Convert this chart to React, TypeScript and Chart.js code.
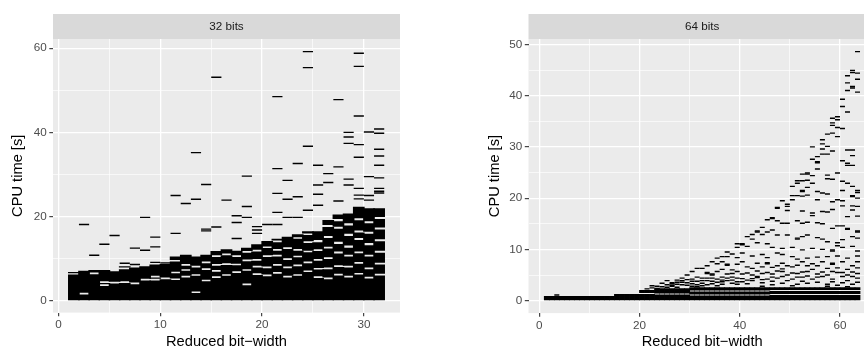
import React, { useEffect, useRef } from "react";
import { Chart, registerables } from "chart.js";
Chart.register(...registerables);

const FONT = '"Liberation Sans", Arial, Helvetica, sans-serif';

const panelTitles = ["32 bits", "64 bits"];
const xAxisTitle = "Reduced bit\u2212width";
const yAxisTitle = "CPU time [s]";

// ---- 32 bits panel ----
const leftXMajor = [0, 10, 20, 30];
const leftXMinor = [5, 15, 25];
const leftYMajor = [0, 20, 40, 60];
const leftYMinor = [10, 30, 50];
// dense runs of results: [bit-width, low, high]
const leftBlocks: [number, number, number][] = [
  [1, 0.1, 6.2], [1, 6.5, 6.8],
  [2, 0.1, 1.5], [2, 1.9, 7.1],
  [3, 0.1, 6.3], [3, 6.7, 7.3],
  [4, 0.1, 3.5], [4, 3.9, 4.2], [4, 4.6, 7.3],
  [5, 0.1, 4.1], [5, 4.5, 7.0],
  [6, 0.1, 4.2], [6, 4.6, 7.5], [6, 7.9, 8.2],
  [7, 0.1, 3.9], [7, 4.3, 7.9],
  [8, 0.1, 4.8], [8, 5.2, 8.2],
  [9, 0.1, 4.8], [9, 5.2, 5.5], [9, 5.9, 8.6],
  [10, 0.1, 5.1], [10, 5.5, 8.8],
  [11, 0.1, 4.9], [11, 5.3, 6.5], [11, 6.9, 9.3], [11, 9.7, 10.5],
  [12, 0.1, 5.5], [12, 5.9, 7.1], [12, 7.5, 8.3], [12, 8.7, 10.9],
  [13, 0.1, 1.8], [13, 2.2, 5.9], [13, 6.3, 7.9], [13, 8.3, 10.5],
  [14, 0.1, 4.6], [14, 5.0, 7.3], [14, 7.7, 8.9], [14, 9.3, 10.9],
  [15, 0.1, 5.4], [15, 5.8, 6.9], [15, 7.3, 8.3], [15, 8.7, 10.4], [15, 10.8, 11.8],
  [16, 0.1, 5.9], [16, 6.3, 8.5], [16, 8.9, 10.8], [16, 11.2, 12.2],
  [17, 0.1, 6.6], [17, 7.0, 8.4], [17, 8.8, 10.4], [17, 10.8, 11.9],
  [18, 0.1, 3.7], [18, 4.1, 7.1], [18, 7.5, 9.4], [18, 9.8, 11.4], [18, 11.8, 12.6],
  [19, 0.1, 6.1], [19, 6.5, 7.9], [19, 8.3, 9.5], [19, 9.9, 11.7], [19, 12.1, 13.4],
  [20, 0.1, 5.8], [20, 6.2, 7.7], [20, 8.1, 10.4], [20, 10.8, 12.5], [20, 12.9, 14.2],
  [21, 0.1, 6.4], [21, 6.8, 8.3], [21, 8.7, 10.5], [21, 10.9, 11.9], [21, 12.3, 13.9], [21, 14.3, 14.7],
  [22, 0.1, 5.5], [22, 5.9, 7.7], [22, 8.1, 9.7], [22, 10.1, 12.3], [22, 12.7, 15.2],
  [23, 0.1, 5.9], [23, 6.3, 8.2], [23, 8.6, 10.3], [23, 10.7, 11.9], [23, 12.3, 14.7], [23, 15.1, 15.8],
  [24, 0.1, 6.8], [24, 7.2, 8.9], [24, 9.3, 11.5], [24, 11.9, 13.7], [24, 14.1, 15.6], [24, 16.0, 16.5],
  [25, 0.1, 5.4], [25, 5.8, 7.4], [25, 7.8, 9.5], [25, 9.9, 11.8], [25, 12.2, 13.9], [25, 14.4, 16.5],
  [26, 0.1, 5.1], [26, 5.5, 7.5], [26, 7.9, 9.9], [26, 10.3, 12.4], [26, 12.8, 14.9], [26, 15.4, 17.5], [26, 18.0, 19.2],
  [27, 0.1, 6.0], [27, 6.4, 8.0], [27, 8.4, 11.2], [27, 11.7, 13.5], [27, 14.0, 17.1], [27, 17.6, 18.9], [27, 19.4, 20.5],
  [28, 0.1, 5.5], [28, 5.9, 7.9], [28, 8.3, 10.5], [28, 10.9, 12.6], [28, 13.1, 15.4], [28, 15.9, 17.9], [28, 18.4, 20.7],
  [29, 0.1, 6.2], [29, 6.6, 8.8], [29, 9.2, 11.3], [29, 11.7, 14.4], [29, 14.9, 16.2], [29, 16.7, 19.1], [29, 19.6, 22.3],
  [30, 0.1, 5.3], [30, 5.7, 7.5], [30, 7.9, 10.5], [30, 10.9, 13.2], [30, 13.7, 15.9], [30, 16.4, 18.4], [30, 18.9, 22.0],
  [31, 0.1, 6.0], [31, 6.4, 8.6], [31, 9.0, 11.4], [31, 11.9, 14.1], [31, 14.6, 16.9], [31, 17.4, 19.4], [31, 19.9, 22.0],
];
// single results: [bit-width, CPU time]
const leftDashes: [number, number][] = [
  [15, 53.1], [13, 35.2], [21, 48.5], [21, 31.4], [23, 32.6], [24, 59.2], [24, 55.4], [24, 36.7],
  [25, 32.2], [26, 30.2], [27, 47.8], [27, 31.8], [28, 40.0], [28, 38.9], [28, 37.4], [29, 58.8],
  [29, 55.7], [29, 43.9], [29, 37.1], [29, 34.1], [30, 40.1], [31, 40.8], [31, 39.8], [31, 36.0],
  [31, 34.4], [31, 32.2],
  [2, 18.1], [3, 10.8], [4, 13.4], [5, 15.5], [7, 12.5], [8, 19.8], [8, 12.0], [9, 15.1], [9, 12.8],
  [6, 8.9], [7, 8.6], [9, 9.1], [10, 9.0],
  [11, 16.0], [11, 25.0], [12, 23.1], [13, 24.1], [14, 27.6], [14, 17.0], [14, 16.6], [15, 17.5],
  [16, 23.9], [17, 20.2], [17, 18.6], [17, 14.8], [18, 29.6], [18, 22.4], [18, 19.8], [19, 17.6],
  [19, 16.8], [19, 16.0], [20, 18.1], [21, 25.5], [21, 21.0], [21, 18.1], [22, 28.6], [22, 24.1],
  [22, 19.8], [23, 24.7], [23, 19.8], [24, 21.5], [25, 27.5], [25, 25.3], [25, 22.7], [26, 28.1],
  [27, 23.7], [28, 27.5], [28, 28.9], [29, 26.7], [29, 25.1], [29, 24.2], [30, 29.5], [30, 25.0],
  [30, 23.9], [31, 29.2], [31, 26.7], [31, 26.0], [31, 25.6],
];

// ---- 64 bits panel ----
const rightXMajor = [0, 20, 40, 60];
const rightXMinor = [10, 30, 50];
const rightYMajor = [0, 10, 20, 30, 40, 50];
const rightYMinor = [5, 15, 25, 35, 45];
// dense runs: [from bit-width, to bit-width, low, high]
const rightBlockRuns: [number, number, number, number][] = [
  [1, 14, 0.1, 0.9],
  [15, 19, 0.1, 1.3],
  [20, 22, 0.1, 1.3], [20, 22, 1.5, 2.1],
  [23, 29, 0.1, 1.2], [23, 29, 1.4, 2.4],
  [30, 45, 0.1, 1.0], [30, 45, 1.2, 1.8], [30, 45, 2.0, 2.6],
  [46, 63, 0.1, 1.1], [46, 63, 1.3, 1.9], [46, 63, 2.1, 2.6],
];
const rightDashes: [number, number][] = [
  [63, 48.6], [62, 44.9], [62, 44.5], [63, 44.4], [61, 43.9], [63, 43.2], [61, 42.5], [62, 41.8],
  [62, 41.5], [61, 41.0], [63, 40.7], [60, 39.3], [60, 37.9], [61, 36.8], [58, 35.6], [59, 35.9],
  [58, 34.7], [59, 35.3], [58, 34.2], [59, 33.8], [60, 33.6], [57, 32.5], [58, 32.7], [59, 32.0],
  [56, 31.4], [56, 30.6], [57, 30.1], [54, 30.0],
  [56, 29.6], [58, 29.2], [61, 29.4], [62, 29.4], [56, 28.6], [57, 28.6], [55, 28.1], [62, 28.3],
  [54, 27.6], [55, 27.1], [55, 26.9], [60, 27.3], [61, 26.8], [61, 26.4], [62, 26.4], [55, 25.7],
  [53, 24.9], [53, 24.7], [52, 24.7], [54, 24.4], [57, 24.5], [59, 24.9], [57, 23.8], [58, 23.7],
  [60, 23.3], [51, 23.4], [52, 23.4], [53, 23.5], [54, 22.9], [51, 22.9], [50, 22.3], [61, 22.9],
  [62, 22.3], [52, 21.5], [52, 21.3], [53, 22.1], [55, 21.3], [56, 21.0], [57, 20.8], [60, 21.5],
  [63, 21.5], [63, 21.1], [62, 20.5], [62, 20.3], [50, 20.5], [51, 20.5], [50, 19.7], [52, 20.4],
  [53, 20.6], [55, 19.7], [58, 19.3], [59, 19.7], [60, 19.5], [63, 20.0], [48, 19.5], [49, 18.8],
  [47, 18.2], [47, 18.0], [49, 18.4], [49, 17.6], [52, 17.5], [54, 17.1], [54, 16.6], [56, 17.4],
  [57, 17.3], [58, 17.8], [60, 18.5], [62, 18.5], [62, 17.7], [63, 18.4], [63, 16.5], [61, 16.4],
  [46, 16.2], [46, 16.0], [45, 15.8], [47, 15.6], [48, 15.1], [49, 15.1], [51, 15.6], [52, 15.1],
  [53, 15.3], [55, 15.2], [56, 15.0], [58, 14.1], [59, 14.6], [61, 14.1], [61, 13.9], [63, 13.6],
  [63, 13.4], [60, 14.6], [44, 14.3], [43, 13.6], [43, 13.4], [42, 12.9], [45, 13.4], [46, 13.8],
  [41, 12.5], [42, 12.0], [44, 12.9], [47, 12.8], [49, 12.8], [51, 12.2], [51, 12.0], [52, 12.5],
  [53, 12.8], [55, 12.3], [56, 12.0], [57, 11.5], [59, 11.3], [60, 11.9], [62, 12.5], [63, 12.2],
  [39, 11.1], [40, 11.1], [40, 10.9], [39, 10.4], [41, 10.6], [43, 11.3], [45, 11.1], [46, 10.4],
  [48, 10.2], [50, 10.4], [52, 9.9], [54, 10.2], [56, 10.0], [58, 9.9], [58, 9.7], [59, 10.7],
  [60, 10.4], [62, 10.6], [63, 9.7], [37, 9.5], [38, 9.1], [36, 8.6], [35, 8.3], [37, 8.6],
  [39, 8.4], [40, 9.3], [42, 8.7], [44, 9.0], [45, 8.4], [47, 9.3], [48, 9.0], [50, 8.6],
  [51, 8.1], [53, 8.3], [55, 8.5], [57, 8.6], [59, 8.7], [61, 8.3], [63, 8.7], [34, 7.6],
  [33, 6.8], [35, 7.2], [36, 7.6], [37, 7.1], [37, 6.9], [39, 7.1], [40, 7.6], [41, 6.6],
  [43, 7.3], [45, 7.4], [45, 7.2], [47, 6.8], [48, 7.3], [50, 6.6], [52, 7.6], [53, 6.8],
  [54, 7.2], [56, 7.6], [58, 7.3], [58, 7.1], [60, 7.6], [62, 6.8], [63, 7.6], [31, 6.3],
  [32, 6.3], [30, 5.7], [29, 5.0], [33, 5.5], [33, 5.3], [34, 5.2], [34, 5.0], [35, 5.7],
  [36, 6.1], [38, 5.3], [40, 5.2], [42, 5.0], [44, 5.3], [46, 5.2], [48, 5.7], [49, 5.0],
  [51, 5.3], [53, 5.7], [55, 5.2], [57, 5.0], [59, 5.5], [61, 5.0], [63, 5.3], [27, 4.0],
  [28, 4.4], [26, 3.5], [25, 3.1], [30, 4.2], [31, 4.6], [32, 3.9], [34, 4.4], [36, 4.0],
  [39, 4.4], [41, 4.0], [43, 4.7], [43, 4.5], [45, 4.2], [47, 4.4], [50, 4.2], [52, 4.6],
  [54, 4.2], [56, 4.7], [58, 4.2], [60, 4.7], [62, 4.7], [63, 4.4], [22, 2.9], [23, 2.4],
  [24, 2.7], [24, 3.4], [25, 3.9], [26, 3.0], [27, 3.2], [28, 3.6], [29, 3.0], [29, 4.1],
  [30, 3.3], [31, 3.8], [32, 3.4], [33, 3.9], [33, 3.1], [35, 3.6], [36, 3.2], [37, 3.9],
  [38, 3.4], [38, 4.6], [39, 3.2], [40, 3.7], [41, 3.3], [42, 3.9], [44, 3.5], [46, 3.1],
  [46, 3.8], [48, 3.4], [49, 3.9], [51, 3.2], [52, 3.8], [53, 3.4], [55, 3.6], [57, 3.2],
  [58, 3.7], [59, 3.0], [60, 3.5], [61, 3.9], [62, 3.2], [63, 3.6], [27, 2.6], [31, 2.7],
  [35, 2.9], [44, 2.8], [50, 2.9], [57, 2.8], [61, 2.7], [3, 1.1],
  [21, 2.3], [22, 2.5], [23, 2.8], [25, 2.6], [26, 2.8], [26, 3.3], [27, 3.6], [28, 3.1],
  [28, 3.9], [29, 3.5], [30, 2.8], [30, 3.8], [31, 3.1], [32, 2.9], [32, 4.4], [33, 4.4],
  [34, 3.3], [34, 3.8], [35, 4.2], [36, 4.6], [36, 3.7], [37, 4.4], [37, 5.2], [38, 4.0],
  [38, 6.0], [39, 5.7], [39, 3.7], [40, 4.3], [41, 5.4], [42, 4.3], [42, 6.3], [43, 5.8],
  [44, 4.1], [44, 6.6], [45, 5.5], [46, 4.6], [46, 6.5], [47, 5.8], [48, 4.7], [48, 6.2],
  [49, 6.8], [50, 5.4], [51, 4.6], [51, 6.9], [52, 5.6], [53, 4.8], [54, 6.1], [55, 4.6],
  [55, 6.8], [56, 5.6], [57, 6.3], [58, 5.7], [59, 6.4], [60, 5.5], [61, 6.1], [62, 5.6],
  [63, 6.4],
];

type Panel = {
  title: string;
  xMajor: number[]; xMinor: number[]; yMajor: number[]; yMinor: number[];
  xMin: number; xMax: number; yMin: number; yMax: number;
  blocks: [number, number, number][];
  dashes: [number, number][];
  padLeft: number; padRight: number; yAxisWidth: number; xAxisHeight: number;
  yTitlePad: number;
};

const stripPlugin = {
  id: "strip",
  beforeDraw(chart: any, _args: any, opts: any) {
    const { ctx, chartArea } = chart;
    const w = chartArea.right - chartArea.left;
    ctx.save();
    ctx.fillStyle = "#EBEBEB";
    ctx.fillRect(chartArea.left, chartArea.top, w, chartArea.bottom - chartArea.top);
    ctx.fillStyle = "#D9D9D9";
    ctx.fillRect(chartArea.left, opts.top, w, chartArea.top - opts.top);
    ctx.fillStyle = "#1A1A1A";
    ctx.font = `11.7px ${FONT}`;
    ctx.textAlign = "center";
    ctx.textBaseline = "middle";
    ctx.fillText(opts.text, (chartArea.left + chartArea.right) / 2, (opts.top + chartArea.top) / 2 + 0.5);
    ctx.restore();
  },
};

function makeChart(canvas: HTMLCanvasElement, p: Panel) {
  const xMaj = new Set(p.xMajor);
  const yMaj = new Set(p.yMajor);
  const xTicks = [...p.xMajor, ...p.xMinor].sort((a, b) => a - b);
  const yTicks = [...p.yMajor, ...p.yMinor].sort((a, b) => a - b);
  const bars = p.blocks.map(([k, lo, hi]) => ({ x: k + 0.5, y: [lo, hi] }));
  const dashes = p.dashes.map(([k, v]) => ({ x: k + 0.5, y: v }));
  const halfUnit = (ctx: any) => {
    const s = ctx.chart.scales.x;
    return Math.abs(s.getPixelForValue(1) - s.getPixelForValue(0)) / 2;
  };
  const gridFor = (maj: Set<number>) => ({
    offset: false,
    drawTicks: true,
    tickLength: 3.7,
    color: "#FFFFFF",
    lineWidth: (c: any) => (c.tick && maj.has(c.tick.value) ? 1.3 : 0.65),
    tickColor: (c: any) => (c.tick && maj.has(c.tick.value) ? "#333333" : "rgba(0,0,0,0)"),
    tickWidth: 1.1,
  });
  const tickFont = { family: FONT, size: 11.7 };
  const titleFont = { family: FONT, size: 14.67, lineHeight: 1 };
  return new Chart(canvas, {
    type: "scatter",
    data: {
      datasets: [
        {
          type: "bar",
          data: bars as any,
          backgroundColor: "#000000",
          borderWidth: 0,
          grouped: false,
          barPercentage: 1.15,
          categoryPercentage: 1,
          inflateAmount: 0,
        } as any,
        {
          type: "scatter",
          data: dashes,
          pointStyle: "line",
          pointRadius: halfUnit,
          pointHoverRadius: halfUnit,
          pointBorderWidth: 1.4,
          pointBorderColor: "#000000",
          pointBackgroundColor: "#000000",
          showLine: false,
        } as any,
      ],
    },
    plugins: [stripPlugin],
    options: {
      responsive: false,
      animation: false,
      devicePixelRatio: 1,
      events: [],
      layout: { padding: { left: p.padLeft, right: p.padRight, top: 39, bottom: 0 } },
      plugins: {
        legend: { display: false },
        tooltip: { enabled: false },
        strip: { text: p.title, top: 14 },
      } as any,
      scales: {
        x: {
          type: "linear",
          min: p.xMin,
          max: p.xMax,
          offset: false,
          afterBuildTicks: (s: any) => { s.ticks = xTicks.map((v) => ({ value: v })); },
          afterFit: (s: any) => { s.height = p.xAxisHeight; },
          grid: gridFor(xMaj) as any,
          border: { display: false },
          ticks: {
            autoSkip: false, maxRotation: 0, minRotation: 0, padding: 1.5,
            color: "#4D4D4D", font: tickFont,
            callback: (v: any) => (xMaj.has(Number(v)) ? String(v) : ""),
          },
          title: { display: true, text: xAxisTitle, color: "#000000", font: titleFont, padding: { top: 0, bottom: 0.2 } },
        },
        y: {
          type: "linear",
          min: p.yMin,
          max: p.yMax,
          offset: false,
          afterBuildTicks: (s: any) => { s.ticks = yTicks.map((v) => ({ value: v })); },
          afterFit: (s: any) => { s.width = p.yAxisWidth; },
          grid: gridFor(yMaj) as any,
          border: { display: false },
          ticks: {
            autoSkip: false, padding: 2.6,
            color: "#4D4D4D", font: tickFont,
            callback: (v: any) => (yMaj.has(Number(v)) ? String(v) : ""),
          },
          title: { display: true, text: yAxisTitle, color: "#000000", font: titleFont, padding: { top: p.yTitlePad, bottom: 0 } },
        },
      },
    } as any,
  });
}

const leftPanel: Panel = {
  title: panelTitles[0],
  xMajor: leftXMajor, xMinor: leftXMinor, yMajor: leftYMajor, yMinor: leftYMinor,
  xMin: -0.55, xMax: 33.55, yMin: -2.83, yMax: 62.2,
  blocks: leftBlocks, dashes: leftDashes,
  padLeft: 0, padRight: 32, yAxisWidth: 53, xAxisHeight: 36.4, yTitlePad: 10.2,
};

const rightBlocks: [number, number, number][] = [];
rightBlockRuns.forEach(([a, b, lo, hi]) => {
  for (let k = a; k <= b; k++) rightBlocks.push([k, lo, hi]);
});

const rightPanel: Panel = {
  title: panelTitles[1],
  xMajor: rightXMajor, xMinor: rightXMinor, yMajor: rightYMajor, yMinor: rightYMinor,
  xMin: -2.15, xMax: 67.15, yMin: -2.43, yMax: 51.06,
  blocks: rightBlocks, dashes: rightDashes,
  padLeft: 45, padRight: 16.2, yAxisWidth: 51.5, xAxisHeight: 35.9, yTitlePad: 10.7,
};

export default function App() {
  const leftRef = useRef<HTMLCanvasElement>(null);
  const rightRef = useRef<HTMLCanvasElement>(null);
  useEffect(() => {
    const a = makeChart(leftRef.current!, leftPanel);
    const b = makeChart(rightRef.current!, rightPanel);
    return () => { a.destroy(); b.destroy(); };
  }, []);
  return (
    <div style={{ position: "fixed", left: 0, top: 0, width: 864, height: 349, overflow: "hidden", background: "#FFFFFF" }}>
      <canvas ref={leftRef} width={432} height={349} style={{ position: "absolute", left: 0, top: 0 }} />
      <canvas ref={rightRef} width={460} height={349} style={{ position: "absolute", left: 432, top: 0 }} />
    </div>
  );
}
